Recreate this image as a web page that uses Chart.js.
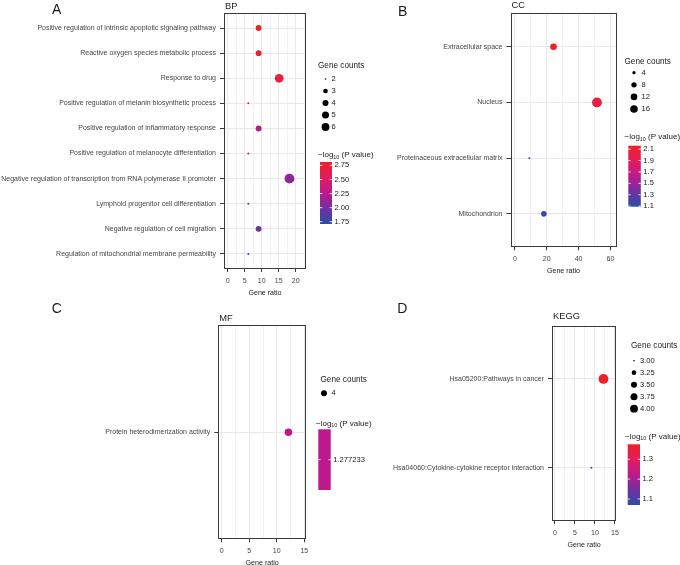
<!DOCTYPE html>
<html>
<head>
<meta charset="utf-8">
<script src="https://cdn.jsdelivr.net/npm/chart.js@4.4.1/dist/chart.umd.min.js"></script>
<style>
  html, body { margin: 0; padding: 0; background: #fff; }
  #page { position: relative; width: 680px; height: 565px; overflow: hidden; background: #fff; }
  #page canvas { position: absolute; left: 0; top: 0; }
</style>
</head>
<body>
<div id="page">
  <canvas id="chartBP" width="680" height="565"></canvas>
  <canvas id="chartCC" width="680" height="565"></canvas>
  <canvas id="chartMF" width="680" height="565"></canvas>
  <canvas id="chartKEGG" width="680" height="565"></canvas>
</div>
<script>
// ---- data ----
const bpTerms = [
    'Positive regulation of intrinsic apoptotic signaling pathway',
    'Reactive oxygen species metabolic process',
    'Response to drug',
    'Positive regulation of melanin biosynthetic process',
    'Positive regulation of inflammatory response',
    'Positive regulation of melanocyte differentiation',
    'Negative regulation of transcription from RNA polymerase II promoter',
    'Lymphoid progenitor cell differentiation',
    'Negative regulation of cell migration',
    'Regulation of mitochondrial membrane permeability'
];
const bpRatio = [9.09, 9.09, 15.15, 6.06, 9.09, 6.06, 18.18, 6.06, 9.09, 6.06];
const bpCounts = [3, 3, 5, 2, 3, 2, 6, 2, 3, 2];
const bpLogP = [2.81, 2.76, 2.70, 2.28, 2.22, 2.18, 2.10, 2.05, 1.95, 1.71];
const bpRatioTicks = [0, 5, 10, 15, 20];
const bpCountBreaks = [2, 3, 4, 5, 6];
const bpLogPTicks = [1.75, 2.00, 2.25, 2.50, 2.75];

const ccTerms = ['Extracellular space', 'Nucleus', 'Proteinaceous extracellular matrix', 'Mitochondrion'];
const ccRatio = [24.24, 51.52, 9.09, 18.18];
const ccCounts = [8, 17, 3, 6];
const ccLogP = [2.16, 2.02, 1.09, 1.13];
const ccRatioTicks = [0, 20, 40, 60];
const ccCountBreaks = [4, 8, 12, 16];
const ccLogPTicks = [1.1, 1.3, 1.5, 1.7, 1.9, 2.1];

const mfTerms = ['Protein heterodimerization activity'];
const mfRatio = [12.12];
const mfCounts = [4];
const mfLogP = [1.277233];
const mfRatioTicks = [0, 5, 10, 15];
const mfCountBreaks = [4];
const mfLogPTicks = [1.277233];

const keggTerms = ['Hsa05200:Pathways in cancer', 'Hsa04060:Cytokine-cytokine receptor interaction'];
const keggRatio = [12.12, 9.09];
const keggCounts = [4, 3];
const keggLogP = [1.375, 1.07];
const keggRatioTicks = [0, 5, 10, 15];
const keggCountBreaks = [3.00, 3.25, 3.50, 3.75, 4.00];
const keggLogPTicks = [1.1, 1.2, 1.3];

// ---- styles ----
const FONT = '"Liberation Sans", Arial, Helvetica, sans-serif';
const TEXT_DARK = '#1a1a1a';
const AXIS_TEXT = '#444444';
const GRID_MAJOR = '#e8e8e8';
const GRID_MINOR = '#f2f2f2';
const GRAD_STOPS = [
    [0.00, [44, 78, 165]],
    [0.25, [112, 48, 160]],
    [0.50, [188, 26, 140]],
    [0.75, [226, 28, 92]],
    [1.00, [238, 32, 40]]
];

Chart.defaults.font.family = FONT;

function colorAt(t) {
    t = Math.max(0, Math.min(1, t));
    for (let i = 1; i < GRAD_STOPS.length; i++) {
        const [t1, c1] = GRAD_STOPS[i];
        const [t0, c0] = GRAD_STOPS[i - 1];
        if (t <= t1) {
            const f = (t - t0) / (t1 - t0);
            const c = c0.map((v, k) => Math.round(v + (c1[k] - v) * f));
            return `rgb(${c[0]},${c[1]},${c[2]})`;
        }
    }
    return 'rgb(238,32,40)';
}

// ggplot-like area scale: small dot for the smallest count, ~5px radius for the largest
function radiusFor(count, counts) {
    const lo = Math.min(...counts), hi = Math.max(...counts);
    const t = hi === lo ? 0.5 : (count - lo) / (hi - lo);
    return 1 + 3.9 * Math.sqrt(Math.max(0, t));
}

function drawLogTitle(ctx, x, y) {
    ctx.fillStyle = TEXT_DARK;
    ctx.textAlign = 'left';
    ctx.textBaseline = 'middle';
    ctx.font = `8px ${FONT}`;
    ctx.fillText('\u2212log', x, y);
    let w = ctx.measureText('\u2212log').width;
    ctx.font = `5.4px ${FONT}`;
    ctx.fillText('10', x + w, y + 2.2);
    w += ctx.measureText('10').width;
    ctx.font = `8px ${FONT}`;
    ctx.fillText(' (P value)', x + w, y);
}

const panels = [
    {
        id: 'chartBP', letter: 'A', title: 'BP',
        terms: bpTerms, ratio: bpRatio, counts: bpCounts, logp: bpLogP,
        ticks: bpRatioTicks, breaks: bpCountBreaks, pTicks: bpLogPTicks,
        countDigits: 0, pDigits: 2,
        xMin: -1.1, xMax: 23.05,
        plot: { l: 224, r: 306, t: 13, b: 269 },
        letterAt: [52, 10], titleY: 6,
        sizeLeg: { x: 318, y: 66, dotX: 325.5, labelX: 331.5, y0: 79, step: 12 },
        bar: { titleX: 318, titleY: 155, x: 320, y: 162, w: 12, h: 62 }
    },
    {
        id: 'chartCC', letter: 'B', title: 'CC',
        terms: ccTerms, ratio: ccRatio, counts: ccCounts, logp: ccLogP,
        ticks: ccRatioTicks, breaks: ccCountBreaks, pTicks: ccLogPTicks,
        countDigits: 0, pDigits: 1,
        xMin: -2.76, xMax: 63.8,
        plot: { l: 510.5, r: 616.5, t: 13.3, b: 247.3 },
        letterAt: [398, 11.7], titleY: 5.5,
        sizeLeg: { x: 624.5, y: 62, dotX: 634, labelX: 641.5, y0: 72.7, step: 12.1 },
        bar: { titleX: 624.5, titleY: 137, x: 628.3, y: 145.7, w: 12.5, h: 61 }
    },
    {
        id: 'chartMF', letter: 'C', title: 'MF',
        terms: mfTerms, ratio: mfRatio, counts: mfCounts, logp: mfLogP,
        ticks: mfRatioTicks, breaks: mfCountBreaks, pTicks: mfLogPTicks,
        countDigits: 0, pDigits: 6,
        xMin: -0.62, xMax: 15.31,
        plot: { l: 218.3, r: 306, t: 325, b: 539.3 },
        letterAt: [51.7, 309.3], titleY: 318.3,
        sizeLeg: { x: 320.5, y: 379.3, dotX: 324, labelX: 331.5, y0: 393.3, step: 12 },
        bar: { titleX: 316, titleY: 423.3, x: 318.3, y: 429.3, w: 12.4, h: 60.7 }
    },
    {
        id: 'chartKEGG', letter: 'D', title: 'KEGG',
        terms: keggTerms, ratio: keggRatio, counts: keggCounts, logp: keggLogP,
        ticks: keggRatioTicks, breaks: keggCountBreaks, pTicks: keggLogPTicks,
        countDigits: 2, pDigits: 1,
        xMin: -0.75, xMax: 15.33,
        plot: { l: 552, r: 616.3, t: 325.7, b: 521 },
        letterAt: [397.3, 309.3], titleY: 316.7,
        sizeLeg: { x: 631, y: 346, dotX: 634, labelX: 640, y0: 360.7, step: 12 },
        bar: { titleX: 625, titleY: 436.7, x: 627.7, y: 444.3, w: 12.3, h: 60.7 }
    }
];

function makeDecor(p) {
    return {
        id: 'decor' + p.letter,
        afterDraw(chart) {
            const ctx = chart.ctx;
            const a = chart.chartArea;
            ctx.save();

            // panel border
            ctx.strokeStyle = '#3a3a3a';
            ctx.lineWidth = 1;
            ctx.strokeRect(Math.round(a.left) + 0.5, Math.round(a.top) + 0.5,
                Math.round(a.right) - Math.round(a.left) - 1, Math.round(a.bottom) - Math.round(a.top) - 1);

            // letter + facet title
            ctx.fillStyle = TEXT_DARK;
            ctx.textAlign = 'left';
            ctx.textBaseline = 'middle';
            ctx.font = `14px ${FONT}`;
            ctx.fillText(p.letter, p.letterAt[0], p.letterAt[1]);
            ctx.font = `9.3px ${FONT}`;
            ctx.fillText(p.title, a.left + 1, p.titleY);

            // size legend
            const s = p.sizeLeg;
            ctx.font = `8.2px ${FONT}`;
            ctx.fillText('Gene counts', s.x, s.y);
            p.breaks.forEach((b, i) => {
                const y = s.y0 + i * s.step;
                ctx.beginPath();
                ctx.arc(s.dotX, y, radiusFor(b, p.counts) * 0.8, 0, Math.PI * 2);
                ctx.fillStyle = '#000';
                ctx.fill();
                ctx.fillStyle = TEXT_DARK;
                ctx.font = `7.6px ${FONT}`;
                ctx.fillText(b.toFixed(p.countDigits), s.labelX, y);
            });

            // colour bar
            const bar = p.bar;
            drawLogTitle(ctx, bar.titleX, bar.titleY);
            const lo = Math.min(...p.logp), hi = Math.max(...p.logp);
            const g = ctx.createLinearGradient(0, bar.y + bar.h, 0, bar.y);
            for (let k = 0; k <= 40; k++) {
                g.addColorStop(k / 40, colorAt(hi === lo ? 0.5 : k / 40));
            }
            ctx.fillStyle = g;
            ctx.fillRect(bar.x, bar.y, bar.w, bar.h);
            p.pTicks.forEach(v => {
                const t = hi === lo ? 0.5 : (v - lo) / (hi - lo);
                const y = bar.y + bar.h - t * bar.h;
                ctx.strokeStyle = '#fff';
                ctx.lineWidth = 0.8;
                ctx.beginPath();
                ctx.moveTo(bar.x, y); ctx.lineTo(bar.x + 2.4, y);
                ctx.moveTo(bar.x + bar.w - 2.4, y); ctx.lineTo(bar.x + bar.w, y);
                ctx.stroke();
                ctx.fillStyle = TEXT_DARK;
                ctx.font = `7.6px ${FONT}`;
                ctx.fillText(v.toFixed(p.pDigits), bar.x + bar.w + 2.5, y);
            });
            ctx.restore();
        }
    };
}

function buildPanel(p) {
    const lo = Math.min(...p.logp), hi = Math.max(...p.logp);
    const n = p.terms.length;
    const minor = p.ticks.slice(1).map((v, i) => (v + p.ticks[i]) / 2);
    const last = p.ticks[p.ticks.length - 1], step = p.ticks[1] - p.ticks[0];
    if (last + step / 2 < p.xMax) minor.push(last + step / 2);
    const gridVals = p.ticks.concat(minor).sort((x, y) => x - y);
    const isMajor = v => p.ticks.includes(v);

    const points = p.terms.map((t, i) => ({
        x: p.ratio[i],
        y: i,
        r: radiusFor(p.counts[i], p.counts)
    }));
    const colors = p.logp.map(v => colorAt(hi === lo ? 0.5 : (v - lo) / (hi - lo)));

    const axisFont = { family: FONT, size: 7.0 };

    return new Chart(document.getElementById(p.id).getContext('2d'), {
        type: 'bubble',
        data: {
            datasets: [{
                data: points,
                backgroundColor: colors,
                borderWidth: 0,
                hoverRadius: 0
            }]
        },
        options: {
            responsive: false,
            animation: false,
            devicePixelRatio: 1,
            events: [],
            layout: {
                padding: {
                    left: 0,
                    top: p.plot.t,
                    right: 680 - p.plot.r,
                    bottom: 565 - p.plot.b - 28
                }
            },
            plugins: {
                legend: { display: false },
                tooltip: { enabled: false },
                title: { display: false }
            },
            scales: {
                x: {
                    type: 'linear',
                    min: p.xMin,
                    max: p.xMax,
                    afterFit: scale => { scale.height = 28; },
                    afterBuildTicks: scale => {
                        scale.ticks = gridVals.map(v => ({ value: v }));
                    },
                    border: { display: false },
                    grid: {
                        color: c => isMajor(c.tick && c.tick.value) ? GRID_MAJOR : GRID_MINOR,
                        lineWidth: 1,
                        tickLength: 3,
                        tickColor: c => isMajor(c.tick && c.tick.value) ? '#3a3a3a' : 'rgba(0,0,0,0)'
                    },
                    ticks: {
                        autoSkip: false,
                        maxRotation: 0,
                        padding: 5,
                        color: AXIS_TEXT,
                        font: axisFont,
                        callback: v => isMajor(v) ? String(v) : ''
                    },
                    title: {
                        display: true,
                        text: 'Gene ratio',
                        color: TEXT_DARK,
                        font: { family: FONT, size: 7.1 },
                        padding: 0
                    }
                },
                y: {
                    type: 'linear',
                    reverse: true,
                    min: -0.6,
                    max: n - 0.4,
                    afterFit: scale => { scale.width = p.plot.l; },
                    afterBuildTicks: scale => {
                        scale.ticks = p.terms.map((t, i) => ({ value: i }));
                    },
                    border: { display: false },
                    grid: {
                        color: GRID_MAJOR,
                        lineWidth: 1,
                        tickLength: 4,
                        tickColor: '#3a3a3a'
                    },
                    ticks: {
                        autoSkip: false,
                        padding: 4,
                        color: AXIS_TEXT,
                        font: axisFont,
                        callback: v => p.terms[v]
                    }
                }
            }
        },
        plugins: [makeDecor(p)]
    });
}

panels.forEach(buildPanel);
</script>
</body>
</html>
